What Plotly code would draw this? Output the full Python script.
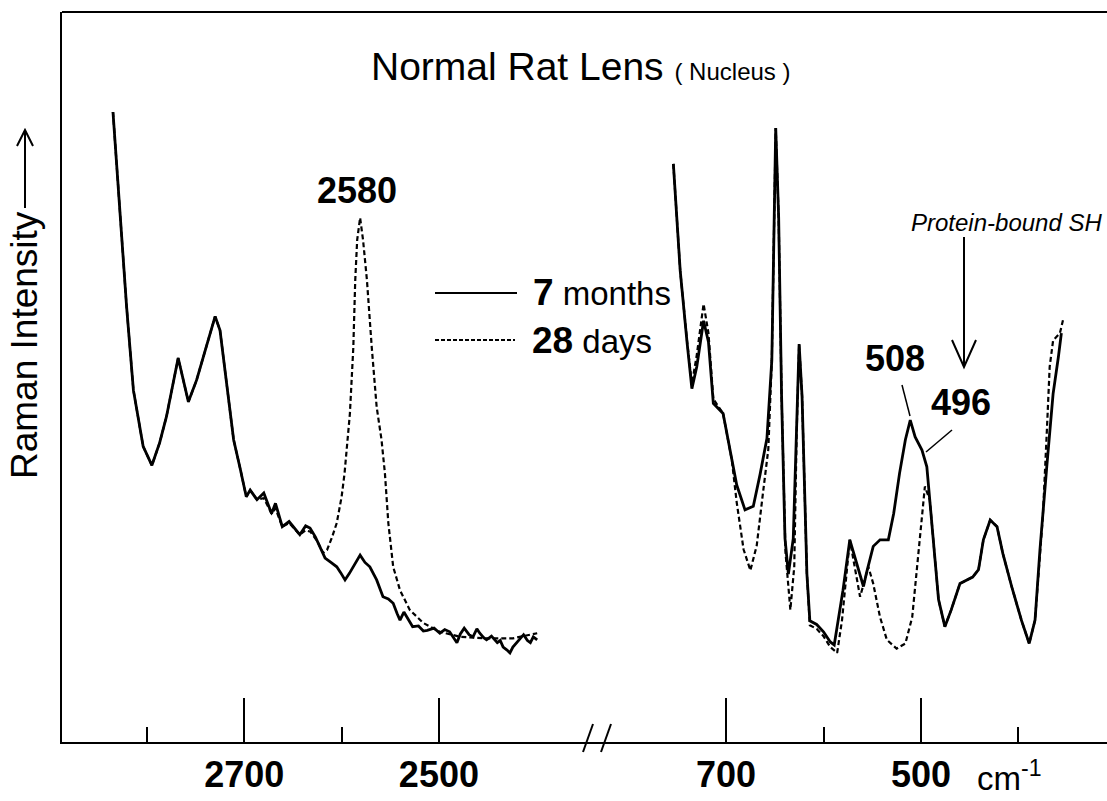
import plotly.graph_objects as go

# ---------------- data ----------------
# Left panel: 2900-2350 cm-1 region
left_wn = [2835, 2828, 2821, 2814, 2804, 2795, 2787, 2780, 2775, 2768, 2757.5, 2749, 2739, 2730,
           2725, 2718, 2711, 2704, 2698, 2694, 2687, 2680, 2672, 2668, 2661, 2654, 2647, 2643,
           2637, 2632.5, 2627, 2619, 2617, 2611, 2605, 2601, 2596.5, 2592, 2588, 2581, 2576,
           2571, 2564, 2557.5, 2552, 2547, 2543, 2540, 2536, 2533, 2527, 2521, 2516, 2512, 2505,
           2499, 2494, 2489, 2485, 2481.5, 2478, 2474, 2469, 2465, 2461, 2458, 2454, 2451, 2446,
           2440, 2437, 2434, 2430, 2427, 2424, 2420, 2416, 2413, 2409, 2406, 2403, 2399]
left_7months = [86.3, 72.9, 59.6, 48.2, 40.5, 37.9, 41.0, 44.6, 47.8, 52.6, 46.6, 49.6, 54.2, 58.3,
                56.4, 49.1, 41.4, 37.3, 33.6, 34.5, 33.2, 34.1, 31.3, 32.7, 29.5, 30.2, 29.0, 28.4,
                29.6, 29.3, 28.1, 25.9, 25.2, 24.6, 24.0, 23.2, 22.2, 23.1, 24.0, 25.6, 24.6,
                24.0, 22.2, 19.9, 19.6, 19.0, 17.6, 16.7, 17.8, 17.1, 15.8, 15.9, 15.2, 15.3, 15.6,
                14.9, 15.4, 15.1, 14.2, 13.6, 14.8, 15.6, 14.7, 14.4, 15.5, 14.9, 14.3, 14.0, 14.5,
                13.6, 13.9, 13.0, 12.6, 12.2, 13.0, 13.6, 14.3, 14.7, 13.9, 13.6, 14.4, 14.0]

left_wn_28d = [2835, 2828, 2821, 2814, 2804, 2795, 2787, 2780, 2775, 2768, 2757.5, 2749, 2739, 2730,
               2725, 2718, 2711, 2704, 2698, 2694, 2687, 2680, 2672, 2668, 2661, 2654, 2647, 2643,
               2637, 2632, 2625, 2619, 2615, 2610, 2605, 2600, 2597, 2595, 2591.5, 2588, 2586,
               2584, 2581, 2578, 2574, 2569, 2564, 2559, 2555.5, 2552, 2547, 2540, 2530, 2516,
               2499, 2478, 2451, 2424, 2399]
left_28days = [86.3, 72.9, 59.6, 48.2, 40.5, 37.9, 41.0, 44.6, 47.8, 52.6, 46.6, 49.6, 54.2, 58.3,
               56.4, 49.1, 41.4, 37.3, 33.6, 34.5, 33.2, 33.4, 31.3, 32.0, 29.5, 30.0, 29.0, 28.4,
               29.0, 28.8, 27.5, 25.9, 26.3, 28.0, 30.0, 33.6, 36.8, 40.0, 45.0, 54.0, 63.3,
               68.8, 71.8, 68.8, 63.3, 54.0, 45.9, 41.4, 36.8, 30.0, 24.0, 20.8, 18.1, 16.3,
               15.1, 14.4, 14.2, 14.2, 14.9]

# Right panel: 800-300 cm-1 region
right_wn = [754, 747, 740, 735, 730, 723, 718, 713, 703, 696, 689, 680.5, 672, 665, 658, 653,
            650, 649, 646, 643, 639.5, 636, 631, 627.5, 625, 622, 617, 614, 607, 600, 593, 589,
            585, 580, 573, 566, 559, 556, 549, 542, 533.5, 528, 522, 516, 511, 506, 499, 494,
            491, 487.5, 482, 475.5, 469, 460, 453, 447, 441, 436, 429, 422, 416, 407, 397, 389,
            383, 378, 371, 364.5, 359, 356]
right_7months = [79.2, 64.6, 54.8, 48.4, 51.4, 57.7, 54.8, 46.4, 45.0, 40.1, 35.2, 31.8, 32.3,
                 36.7, 41.6, 52.3, 76.8, 84.1, 71.9, 47.4, 27.9, 23.0, 27.9, 42.5, 54.5, 47.4,
                 23.0, 16.6, 16.1, 15.1, 13.7, 13.3, 16.7, 20.8, 27.7, 24.5, 21.3, 23.1, 26.8,
                 27.7, 27.7, 31.3, 36.8, 41.4, 44.1, 41.8, 40.0, 37.7, 33.2, 27.7, 19.5, 15.8,
                 18.1, 21.7, 22.2, 22.6, 23.6, 27.7, 30.4, 29.5, 25.8, 21.3, 16.7, 13.5, 16.7,
                 26.3, 37.7, 47.7, 52.8, 56.0]

right_wn_28d = [754, 747, 740, 735, 730, 723, 718, 713, 703, 696, 694, 689, 682, 675, 668.5, 662,
                656.6, 653, 650, 649, 646, 643, 639, 634, 630, 627.5, 625, 622, 617, 614, 607,
                600, 593, 586, 581, 577, 573, 568, 562.5, 558, 554, 549, 542, 535, 525, 516, 509,
                504, 499, 496, 491, 487.5, 482, 475.5, 469, 460, 453, 447, 441, 436, 429, 422,
                416, 407, 397, 389, 383, 375, 371, 368, 364.5, 357.5, 354]
right_28days = [79.2, 64.6, 55.0, 49.0, 53.0, 60.0, 56.0, 47.0, 45.0, 40.1, 38.6, 32.8, 26.4, 23.5,
                26.9, 34.2, 40.1, 52.3, 76.8, 84.1, 71.9, 47.4, 26.0, 18.1, 24.0, 42.5, 54.5,
                47.4, 23.0, 16.0, 15.5, 14.5, 13.0, 12.2, 16.7, 22.0, 27.7, 24.0, 19.9, 22.0,
                24.0, 21.7, 17.1, 14.0, 12.8, 13.5, 17.1, 24.0, 30.9, 35.0, 33.2, 27.7, 19.5,
                15.8, 18.1, 21.7, 22.2, 22.6, 23.6, 27.7, 30.4, 29.5, 25.8, 21.3, 16.7, 13.5,
                16.7, 30.9, 42.3, 51.4, 55.0, 56.0, 58.0]

left_major_ticks = [2700, 2500]
left_minor_ticks = [2800, 2600]
right_major_ticks = [700, 500]
right_minor_ticks = [600, 400]
series_names = ["7 months", "28 days"]

# ---------------- layout geometry ----------------
W, H = 1107, 801
ML, MR, MT, MB = 62, 0, 12, 59
PW, PH = W - ML - MR, H - MT - MB
SPLIT = (598 - ML) / PW


def fx(px):
    return (px - ML) / PW


def fy(py):
    return (H - MB - py) / PH


BOLDNUM = "Liberation Sans, Arial, sans-serif"
SANS = "Liberation Sans, Arial, Helvetica, sans-serif"

fig = go.Figure()
solid = dict(color="black", width=2.8)
dashed = dict(color="black", width=2.2, dash="5px,3px")

fig.add_trace(go.Scatter(x=left_wn_28d, y=left_28days, mode="lines", line=dashed,
                         xaxis="x", yaxis="y", name=series_names[1], showlegend=False))
fig.add_trace(go.Scatter(x=left_wn, y=left_7months, mode="lines", line=solid,
                         xaxis="x", yaxis="y", name=series_names[0], showlegend=False))
fig.add_trace(go.Scatter(x=right_wn_28d, y=right_28days, mode="lines", line=dashed,
                         xaxis="x2", yaxis="y", name=series_names[1], showlegend=False))
fig.add_trace(go.Scatter(x=right_wn, y=right_7months, mode="lines", line=solid,
                         xaxis="x2", yaxis="y", name=series_names[0], showlegend=False))

tickfont = dict(family=BOLDNUM, size=36, color="black", weight="bold")
axis_common = dict(showline=True, linecolor="black", linewidth=2, showgrid=False,
                   zeroline=False, ticks="inside", ticklen=44, tickwidth=2,
                   tickcolor="black", tickfont=tickfont, tickmode="array",
                   automargin=False, ticklabelstandoff=0)

fig.update_layout(
    template="none",
    width=W, height=H, autosize=False,
    margin=dict(l=ML, r=MR, t=MT, b=MB, pad=0),
    paper_bgcolor="white", plot_bgcolor="white",
    showlegend=False,
    xaxis=dict(domain=[0, SPLIT], range=[2887.4, 2336.5], anchor="y",
               tickvals=left_major_ticks, ticktext=[str(v) for v in left_major_ticks],
               minor=dict(tickvals=left_minor_ticks, ticks="inside", ticklen=15,
                          tickwidth=2, tickcolor="black"),
               **axis_common),
    xaxis2=dict(domain=[SPLIT, 1], range=[831.3, 309.2], anchor="y",
                tickvals=right_major_ticks, ticktext=[str(v) for v in right_major_ticks],
                minor=dict(tickvals=right_minor_ticks, ticks="inside", ticklen=15,
                           tickwidth=2, tickcolor="black"),
                **axis_common),
    yaxis=dict(range=[0, 100], anchor="x", showline=True, linecolor="black", linewidth=2,
               showgrid=False, zeroline=False, showticklabels=False, ticks="",
               automargin=False),
)

shapes = []
# top frame line
shapes.append(dict(type="line", xref="paper", yref="paper", x0=0, x1=1, y0=1, y1=1,
                   line=dict(color="black", width=2)))
# axis break marks //
for x0 in (583, 601):
    shapes.append(dict(type="line", xref="paper", yref="paper",
                       x0=fx(x0), y0=fy(752), x1=fx(x0 + 10), y1=fy(724),
                       line=dict(color="black", width=2)))
# legend samples
shapes.append(dict(type="line", xref="paper", yref="paper", x0=fx(435), x1=fx(517),
                   y0=fy(293), y1=fy(293), line=dict(color="black", width=2)))
shapes.append(dict(type="line", xref="paper", yref="paper", x0=fx(435), x1=fx(515),
                   y0=fy(340), y1=fy(340), line=dict(color="black", width=2, dash="4px,2px")))
# y-axis arrow
shapes.append(dict(type="path", xref="paper", yref="paper",
                   path=f"M {fx(25)} {fy(208)} L {fx(25)} {fy(130)} M {fx(17)} {fy(146)} L {fx(25)} {fy(130)} L {fx(33)} {fy(146)}",
                   line=dict(color="black", width=2)))
# protein-bound arrow
shapes.append(dict(type="path", xref="paper", yref="paper",
                   path=f"M {fx(964)} {fy(237)} L {fx(964)} {fy(367)} M {fx(952)} {fy(340)} L {fx(964)} {fy(367)} L {fx(976)} {fy(340)}",
                   line=dict(color="black", width=2)))
# leader lines for 508 / 496
shapes.append(dict(type="line", xref="paper", yref="paper", x0=fx(902), y0=fy(385),
                   x1=fx(910), y1=fy(416), line=dict(color="black", width=1.5)))
shapes.append(dict(type="line", xref="paper", yref="paper", x0=fx(952), y0=fy(430),
                   x1=fx(926), y1=fy(452), line=dict(color="black", width=1.5)))
fig.update_layout(shapes=shapes)

ann = []


def txt(text, px, py, size, family=SANS, xanchor="center", yanchor="middle", angle=0,
        weight="normal", style="normal"):
    ann.append(dict(text=text, xref="paper", yref="paper", x=fx(px), y=fy(py),
                    xanchor=xanchor, yanchor=yanchor, showarrow=False, textangle=angle,
                    font=dict(family=family, size=size, color="black", weight=weight,
                              style=style)))


txt("Normal Rat Lens <span style='font-size:24px'>( Nucleus )</span>", 369, 67, 39,
    xanchor="left")
txt("Raman Intensity", 25, 345, 37, angle=-90)
txt("2580", 357, 190, 36, family=BOLDNUM, weight="bold")
txt("508", 895, 358, 36, family=BOLDNUM, weight="bold")
txt("496", 961, 402, 36, family=BOLDNUM, weight="bold")
txt("Protein-bound SH", 909, 222, 24, family=SANS, xanchor="left", style="italic")
txt("<span style='font-weight:bold;font-size:37px'>7</span> months", 531, 292, 33,
    xanchor="left")
txt("<span style='font-weight:bold;font-size:37px'>28</span> days", 530, 340, 33,
    xanchor="left")
txt("cm<sup>-1</sup>", 975, 776, 33, xanchor="left")
fig.update_layout(annotations=ann)

fig.write_html("out.html", config={"displayModeBar": False},
               post_script="document.body.style.margin='0';document.body.style.padding='0';")
